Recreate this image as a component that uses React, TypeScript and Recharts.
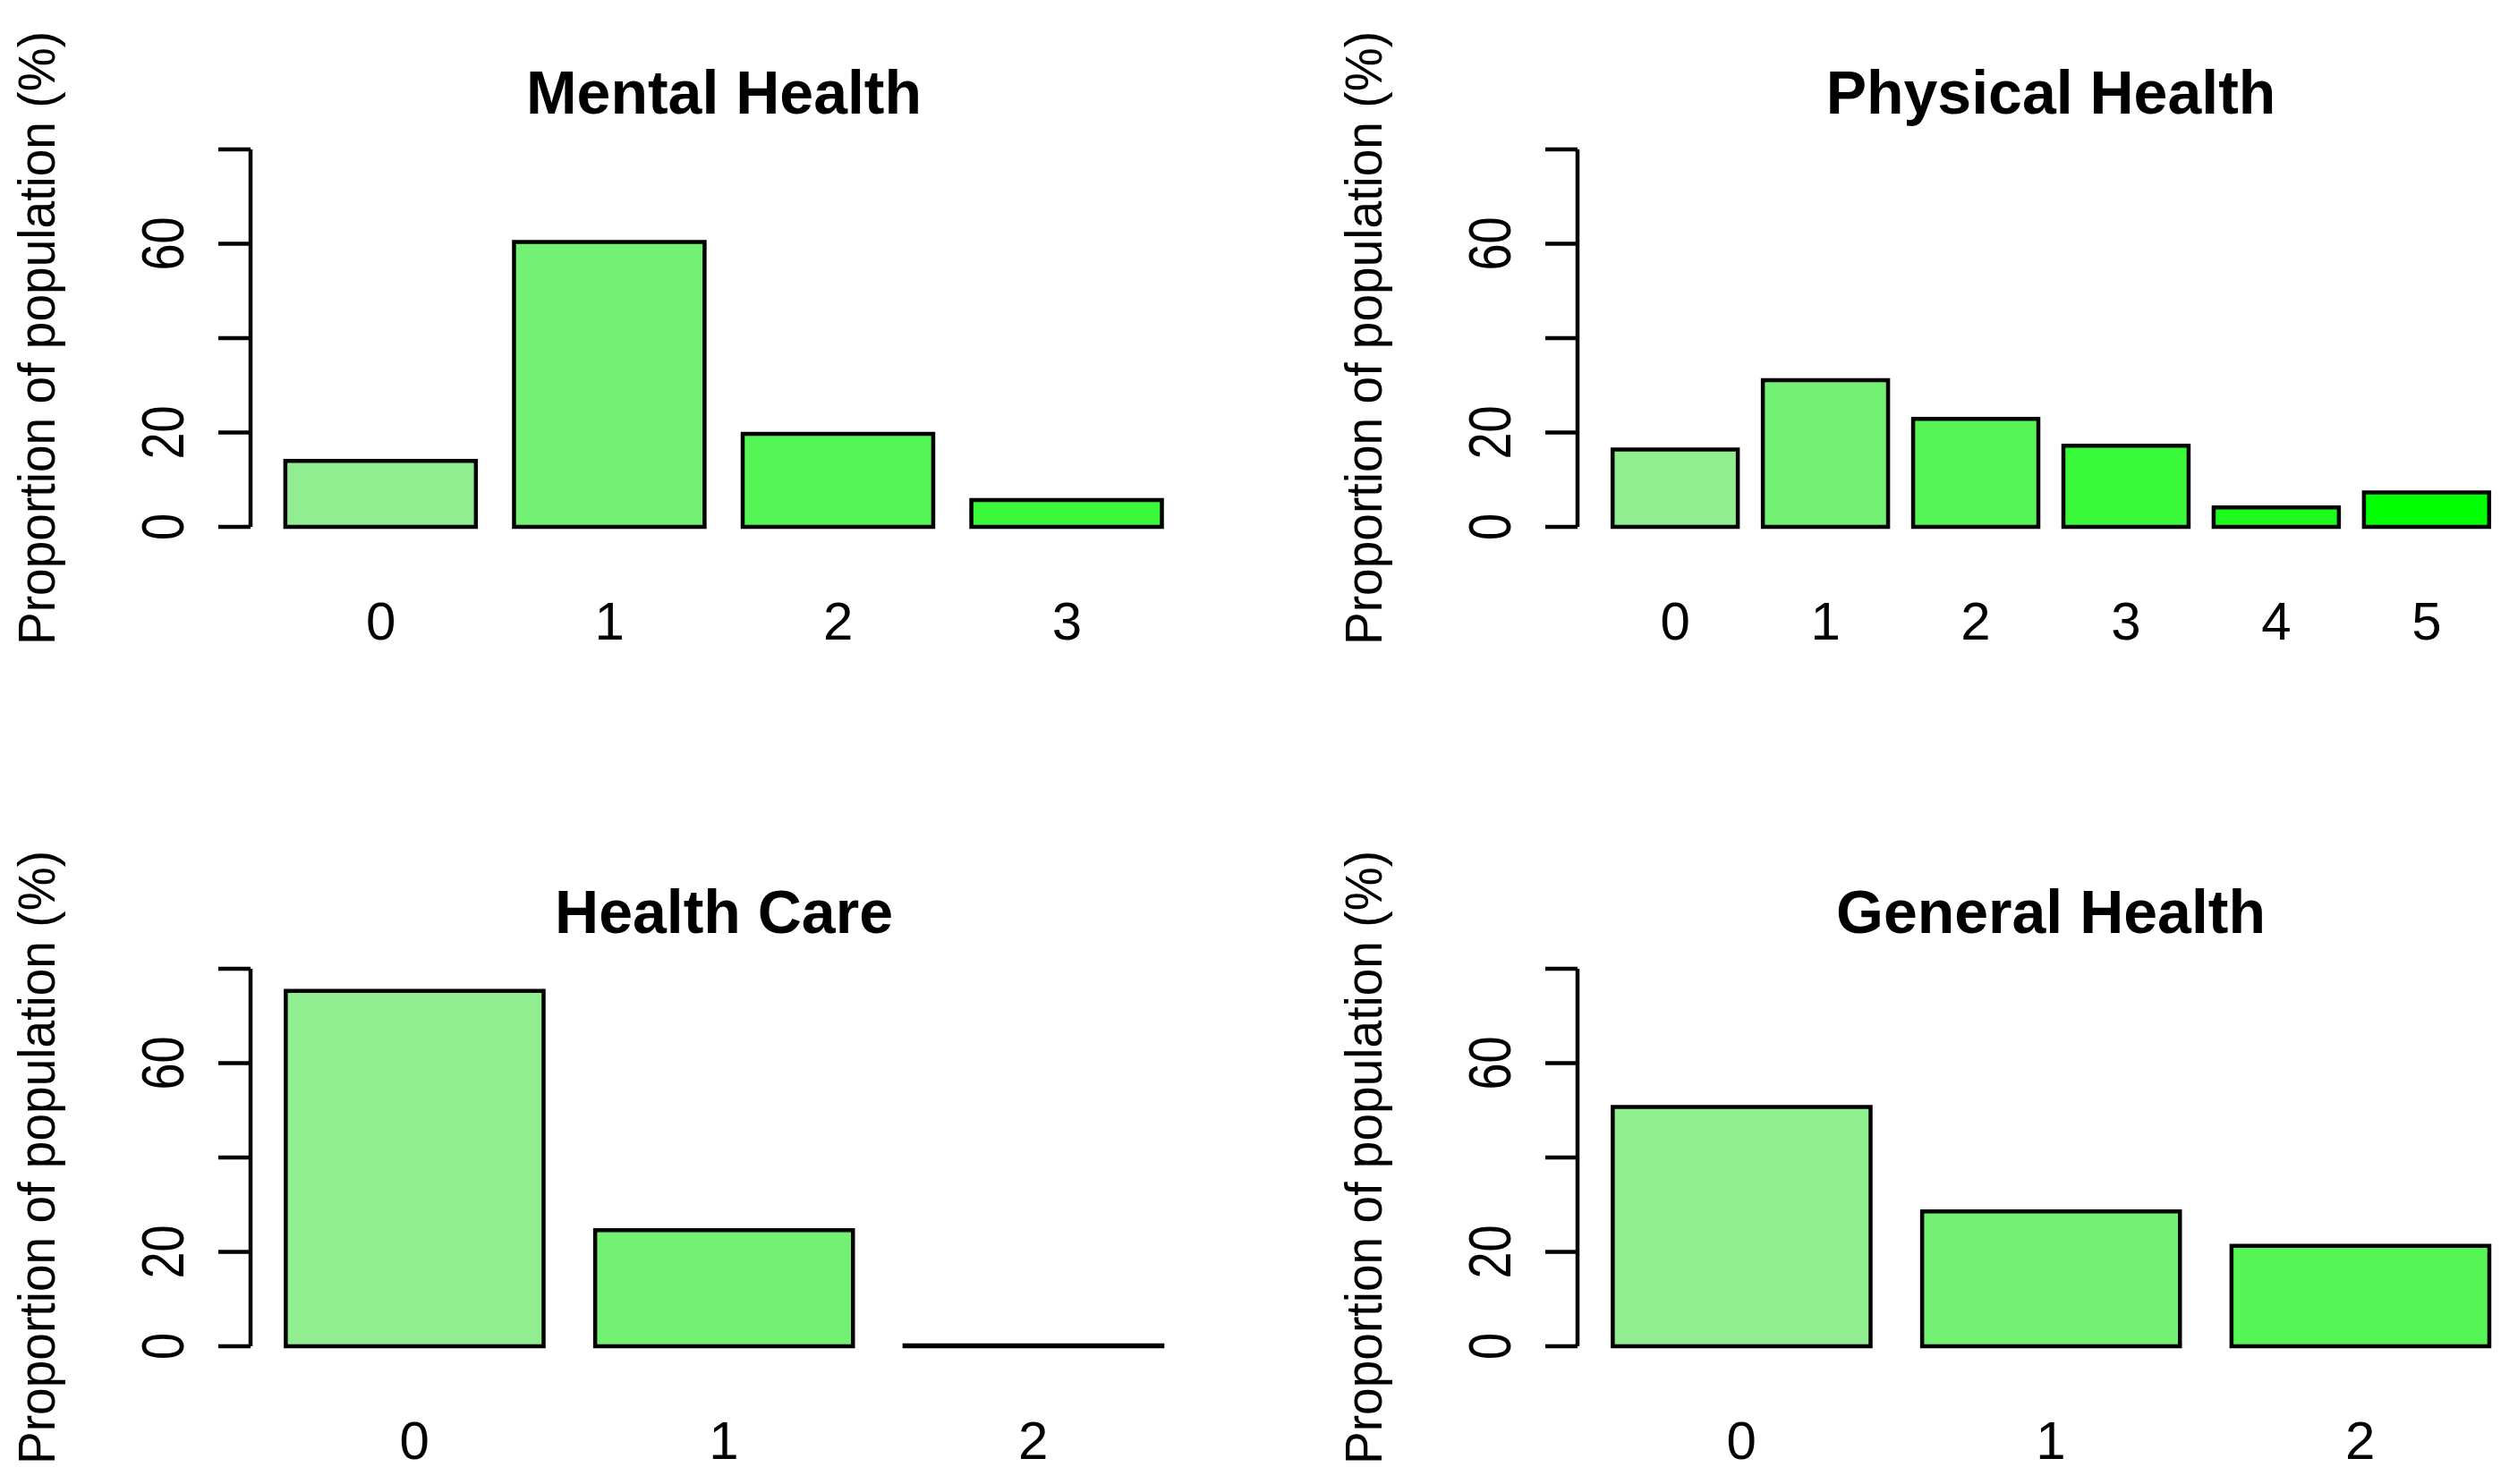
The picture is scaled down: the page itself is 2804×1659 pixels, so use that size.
import { BarChart, Bar, XAxis, YAxis, Cell } from 'recharts'

// colorRampPalette(c('lightgreen', 'green'))(6), recycled per panel
const GREENS = ['#90EE90', '#73F173', '#56F556', '#3AF83A', '#1DFC1D', '#00FF00']

const MENTAL_CATS = ['0', '1', '2', '3']
const MENTAL_VALUES = [14.0, 60.4, 19.7, 5.7]

const PHYSICAL_CATS = ['0', '1', '2', '3', '4', '5']
const PHYSICAL_VALUES = [16.4, 31.1, 22.9, 17.2, 4.1, 7.3]

const CARE_CATS = ['0', '1', '2']
const CARE_VALUES = [75.3, 24.6, 0.2]

const GENERAL_CATS = ['0', '1', '2']
const GENERAL_VALUES = [50.7, 28.6, 21.3]

const Y_TICKS = [0, 20, 40, 60, 80]
const Y_TICK_LABELS = [0, 20, 60] // R drops 40 and 80 (overlap)
const Y_LABEL = 'Proportion of population (%)'

const FONT = '"Liberation Sans", Arial, Helvetica, sans-serif'

// panel geometry (px)
const PANEL_W = 1483
const PANEL_H = 916
const PLOT_LEFT = 280
const PLOT_TOP = 167
const PLOT_W = 1058
const PLOT_H = 422
const X_AXIS_H = 130
const LINE_W = 4.5

function YTick(props: any) {
  const { x, y, payload } = props
  if (!Y_TICK_LABELS.includes(payload.value)) return null
  return (
    <text
      transform={`translate(${x - 39},${y}) rotate(-90) scale(0.82,1)`}
      textAnchor="middle"
      fontFamily={FONT}
      fontSize={66}
      fill="#000"
    >
      {payload.value}
    </text>
  )
}

function XTick(props: any) {
  const { x, y, payload } = props
  return (
    <text x={x} y={y + 126} textAnchor="middle" fontFamily={FONT} fontSize={60} fill="#000">
      {payload.value}
    </text>
  )
}

function Panel({ title, cats, values, left, top }: { title: string; cats: string[]; values: number[]; left: number; top: number }) {
  const n = cats.length
  // R barplot: width 1, space 0.2, x range extended by 4%
  const unit = PLOT_W / ((1.2 * n - 0.2) * 1.08)
  const pad = (0.04 * (1.2 * n - 0.2) - 0.1) * unit
  const data = cats.map((c, i) => ({ cat: c, value: values[i] }))
  const cx = PLOT_LEFT + PLOT_W / 2
  const cy = PLOT_TOP + PLOT_H / 2

  return (
    <div style={{ position: 'absolute', left, top, width: PANEL_W, height: PANEL_H }}>
      <BarChart
        width={PANEL_W}
        height={PANEL_H}
        data={data}
        margin={{ top: PLOT_TOP, left: 0, right: PANEL_W - PLOT_LEFT - PLOT_W, bottom: PANEL_H - PLOT_TOP - PLOT_H - X_AXIS_H }}
      >
        <XAxis
          dataKey="cat"
          height={X_AXIS_H}
          axisLine={false}
          tickLine={false}
          tickSize={0}
          tickMargin={0}
          interval={0}
          padding={{ left: pad, right: pad }}
          tick={<XTick />}
        />
        <YAxis
          width={PLOT_LEFT}
          domain={[0, 80]}
          ticks={Y_TICKS}
          interval={0}
          tickSize={36}
          tickMargin={0}
          axisLine={{ stroke: '#000', strokeWidth: LINE_W }}
          tickLine={{ stroke: '#000', strokeWidth: LINE_W }}
          tick={<YTick />}
        />
        <Bar dataKey="value" barSize={unit} stroke="#000" strokeWidth={LINE_W} isAnimationActive={false}>
          {data.map((d, i) => (
            <Cell key={d.cat} fill={GREENS[i % GREENS.length]} />
          ))}
        </Bar>
      </BarChart>
      <svg width={PANEL_W} height={PANEL_H} style={{ position: 'absolute', left: 0, top: 0, pointerEvents: 'none' }}>
        <text x={cx} y={PLOT_TOP - 40} textAnchor="middle" fontFamily={FONT} fontWeight="bold" fontSize={68} fill="#000">
          {title}
        </text>
        <text
          transform={`translate(${PLOT_LEFT - 219},${cy}) rotate(-90)`}
          textAnchor="middle"
          fontFamily={FONT}
          fontSize={58}
          textLength={686}
          lengthAdjust="spacingAndGlyphs"
          fill="#000"
        >
          {Y_LABEL}
        </text>
      </svg>
    </div>
  )
}

export default function App() {
  return (
    <div style={{ position: 'absolute', left: 0, top: 0, width: 2804, height: 1659, overflow: 'hidden', background: '#fff' }}>
      <Panel title="Mental Health" cats={MENTAL_CATS} values={MENTAL_VALUES} left={0} top={0} />
      <Panel title="Physical Health" cats={PHYSICAL_CATS} values={PHYSICAL_VALUES} left={1483} top={0} />
      <Panel title="Health Care" cats={CARE_CATS} values={CARE_VALUES} left={0} top={916} />
      <Panel title="General Health" cats={GENERAL_CATS} values={GENERAL_VALUES} left={1483} top={916} />
    </div>
  )
}
